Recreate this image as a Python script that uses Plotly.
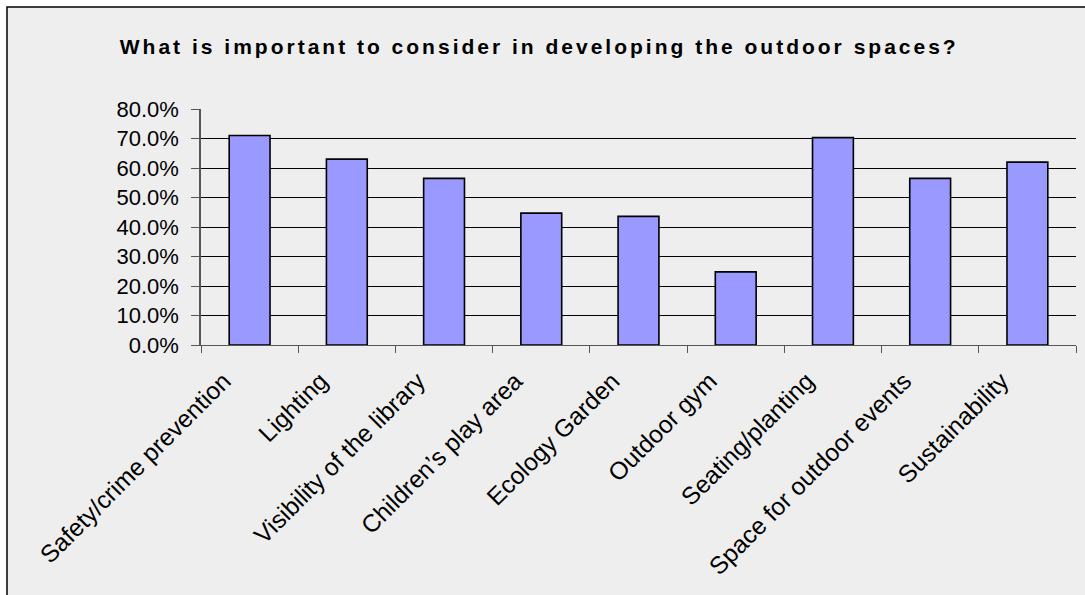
import plotly.graph_objects as go

# Survey results: share of respondents selecting each consideration
categories = [
    "Safety/crime prevention",
    "Lighting",
    "Visibility of the library",
    "Children\u2019s play area",
    "Ecology Garden",
    "Outdoor gym",
    "Seating/planting",
    "Space for outdoor events",
    "Sustainability",
]
shares = [0.710, 0.630, 0.565, 0.447, 0.436, 0.248, 0.703, 0.565, 0.620]

y_ticks = [0.0, 0.1, 0.2, 0.3, 0.4, 0.5, 0.6, 0.7, 0.8]

title_text = "What is important to consider in developing the outdoor spaces?"

W, H = 1085, 595
margin = dict(l=201, r=9, t=109, b=250)
plot_w = W - margin["l"] - margin["r"]
plot_h = H - margin["t"] - margin["b"]

fig = go.Figure(
    go.Bar(
        x=categories,
        y=shares,
        marker=dict(color="#9999FF", line=dict(color="#000000", width=1.6)),
        width=0.42,
    )
)

# Chart-area frame (starts a few pixels in from the top-left corner)
def px_to_paper_x(px):
    return (px - margin["l"]) / plot_w

def px_to_paper_y(py):
    return (H - margin["b"] - py) / plot_h

fig.add_shape(
    type="rect",
    xref="paper", yref="paper",
    x0=px_to_paper_x(7), x1=px_to_paper_x(W + 20),
    y0=px_to_paper_y(H + 20), y1=px_to_paper_y(7),
    fillcolor="#EEEEEE",
    line=dict(color="#000000", width=1.5),
    layer="below",
)

fig.update_layout(
    width=W,
    height=H,
    margin=margin,
    paper_bgcolor="#FFFFFF",
    plot_bgcolor="rgba(0,0,0,0)",
    showlegend=False,
    font=dict(family="Liberation Sans, Arial, sans-serif", color="#000000"),
    title=dict(
        text='<span style="letter-spacing:3.0px"><b>' + title_text + "</b></span>",
        x=0.497, xref="container", xanchor="center",
        y=1 - 47 / H, yref="container", yanchor="middle",
        font=dict(size=21, family="Liberation Sans, Arial, sans-serif", color="#000000"),
    ),
    xaxis=dict(
        tickson="boundaries",
        ticks="outside",
        ticklen=7,
        tickcolor="#555555",
        showgrid=False,
        showline=True,
        linecolor="#555555",
        linewidth=1,
        tickangle=-45,
        tickfont=dict(size=24.5),
        ticklabelstandoff=11,
        ticklabelshift=-26,
    ),
    yaxis=dict(
        range=[0, 0.8],
        tickvals=y_ticks,
        tickformat=".1%",
        ticks="outside",
        ticklen=8,
        tickcolor="#555555",
        showgrid=True,
        gridcolor="#000000",
        gridwidth=1,
        showline=True,
        linecolor="#555555",
        linewidth=1.5,
        zeroline=False,
        ticklabelstandoff=8,
        tickfont=dict(size=22),
    ),
)

fig.write_html("out.html")
